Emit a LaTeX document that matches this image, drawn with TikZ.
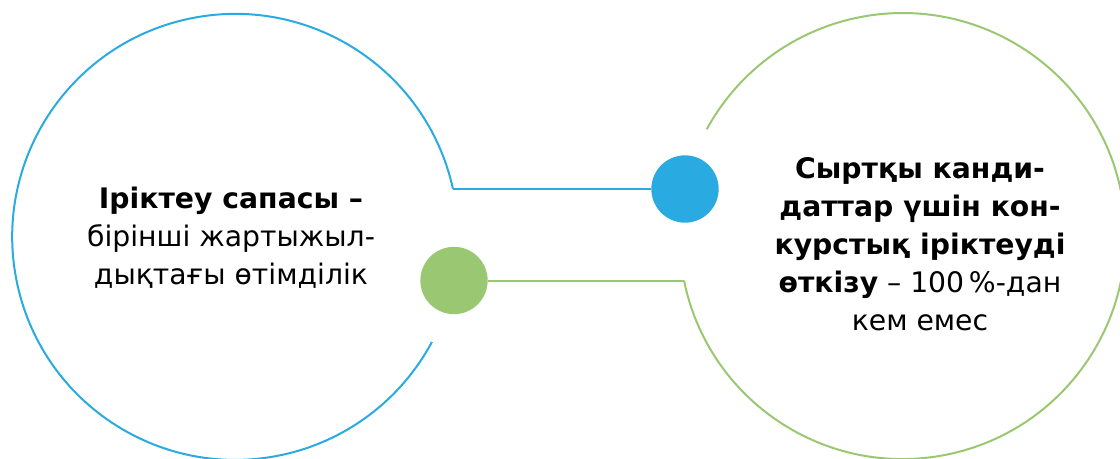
\documentclass[tikz,border=0pt]{standalone}
\usepackage{fontspec}
\setmainfont{DejaVu Sans}
\definecolor{cblue}{HTML}{29ABE2}
\definecolor{cgreen}{HTML}{9AC872}
\begin{document}
\begin{tikzpicture}[x=0.75pt,y=0.75pt,
  blueline/.style={draw=cblue,line width=1.5pt},
  greenline/.style={draw=cgreen,line width=1.5pt},
  dotnode/.style={circle,inner sep=0pt,minimum size=50.5pt},
  txt/.style={align=center,inner sep=0pt,font=\fontsize{21.2}{28.5}\selectfont}]
\useasboundingbox (0,0) rectangle (1120,458);
% junction points on the two open circles
\coordinate (jl) at (453,269);
\coordinate (jr) at (684,177.5);
% dots
\node[dotnode,fill=cblue] (bdot) at (685,269) {};
\node[dotnode,fill=cgreen] (gdot) at (454,177.5) {};
% left open circle and blue connector
\draw[blueline] (jl) arc[start angle=12.4, end angle=331.9, radius=223];
\draw[blueline] (jl) -- (bdot.west);
% right open circle and green connector
\draw[greenline] (jr) arc[start angle=191.5, end angle=511.4, radius=223];
\draw[greenline] (gdot.east) -- (jr);
% texts
\node[txt] (ltext) at (231,220.5) {{\bfseries Іріктеу сапасы –}\\бірінші жартыжыл-\\дықтағы өтімділік};
\node[txt] (rtext) at (920,214) {{\bfseries Сыртқы канди-}\\{\bfseries даттар үшін кон-}\\{\bfseries курстық іріктеуді}\\{\bfseries өткізу} – 100\,\%-дан\\кем емес};
\end{tikzpicture}
\end{document}
